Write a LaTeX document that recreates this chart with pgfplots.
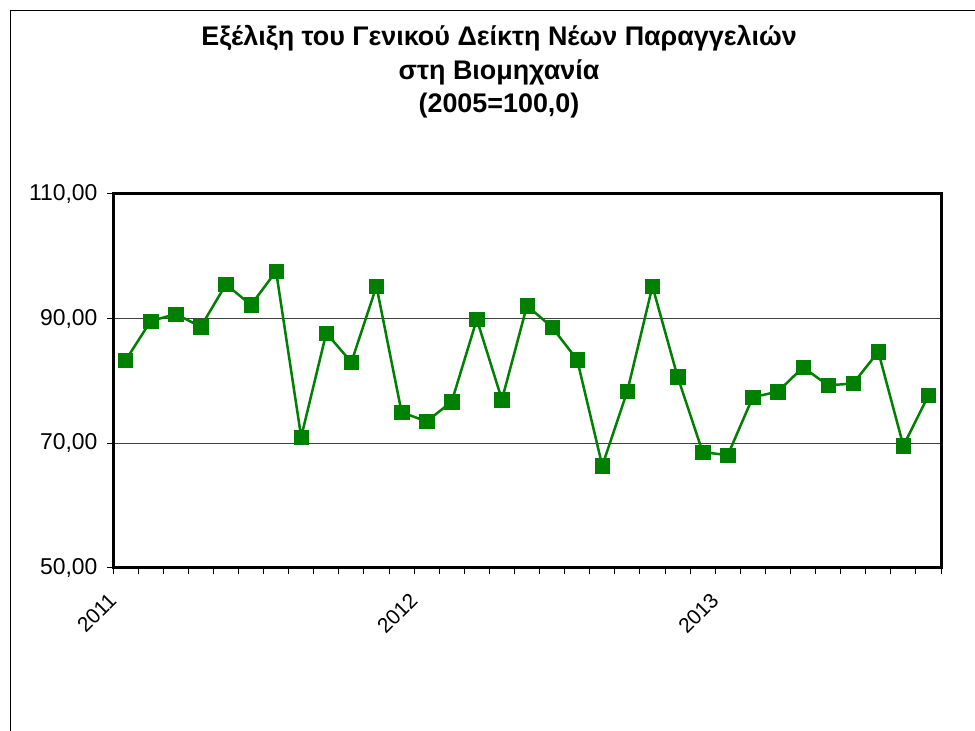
\documentclass[border=0pt]{standalone}
\usepackage{pgfplots}
\pgfplotsset{compat=1.18}
\usepackage{fontspec}
\setmainfont{Liberation Sans}
\definecolor{lgreen}{RGB}{0,128,0}
\definecolor{gridgray}{RGB}{64,64,64}
\begin{document}
\begin{tikzpicture}[x=1bp,y=1bp]
\useasboundingbox (0,0) rectangle (975,731);
\draw[black, line width=1.5bp] (10.5,0) -- (10.5,720.5) -- (975,720.5);
\node[font=\bfseries\fontsize{27}{33.5}\selectfont, align=center] at (499,659) {Εξέλιξη του Γενικού Δείκτη Νέων Παραγγελιών\\στη Βιομηχανία\\(2005=100,0)};
\begin{axis}[at={(113bp,163bp)}, anchor=south west, width=828bp, height=374bp, scale only axis,
  xmin=0.5, xmax=33.5, ymin=50, ymax=110,
  ytick={50,70,90,110}, yticklabels={{50,00},{70,00},{90,00},{110,00}},
  xtick={0.5,12.5,24.5}, xticklabels={2011,2012,2013},
  minor xtick={0.5,1.5,...,33.5},
  xticklabel style={rotate=45, anchor=east, xshift=-13bp, yshift=-16bp, font=\fontsize{21}{23}\selectfont},
  xtick pos=bottom, ytick pos=left,
  tick align=outside, major tick length=6bp, minor tick length=6bp,
  tick style={black, line width=1bp},
  axis line style={black, line width=3bp},
  ymajorgrids, grid style={gridgray, line width=1bp},
  yticklabel style={xshift=-6bp, font=\fontsize{23}{25}\selectfont},
  clip=false,
]
\addplot[lgreen, line width=2.5bp, mark=square*, mark size=7.2bp, mark options={fill=lgreen, draw=lgreen, line width=0.5bp}] coordinates {
(1,83.3) (2,89.6) (3,90.75) (4,88.7) (5,95.5) (6,92.2) (7,97.6) (8,71.0) (9,87.7) (10,83.0) (11,95.2)
(12,75.0) (13,73.5) (14,76.7) (15,89.9) (16,77.0) (17,92.1) (18,88.6) (19,83.4) (20,66.4) (21,78.4) (22,95.2)
(23,80.7) (24,68.6) (25,68.1) (26,77.4) (27,78.3) (28,82.2) (29,79.3) (30,79.6) (31,84.7) (32,69.6) (33,77.7)
};
\end{axis}
\end{tikzpicture}
\end{document}
